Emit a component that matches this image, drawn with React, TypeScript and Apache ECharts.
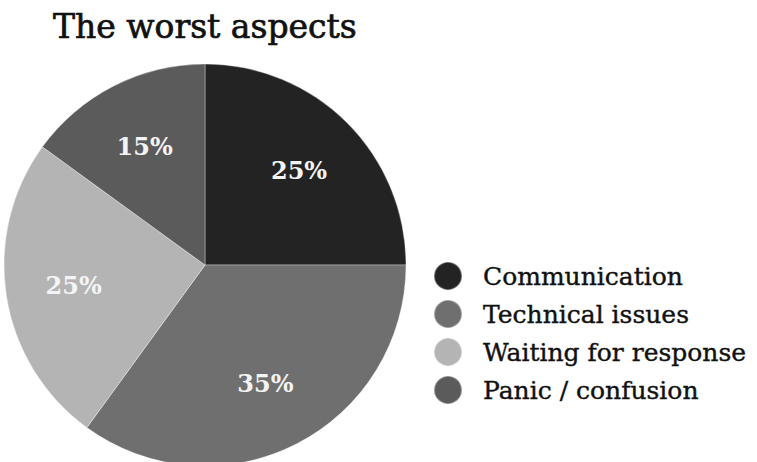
import React, { useEffect, useRef } from "react";
import * as echarts from "echarts";

const categories = ["Communication", "Technical issues", "Waiting for response", "Panic / confusion"];
const values = [25, 35, 25, 15];
const colors = ["#232323", "#6f6f6f", "#b4b4b4", "#5b5b5b"];

export default function App() {
  const ref = useRef<HTMLDivElement>(null);
  useEffect(() => {
    if (!ref.current) return;
    const chart = echarts.init(ref.current, null, { renderer: "svg" });
    const font = "DejaVu Serif";
    const data = categories.map((name, i) => ({ name, value: values[i], itemStyle: { color: colors[i] } }));
    chart.setOption({
      animation: false,
      backgroundColor: "#ffffff",
      title: {
        text: "The worst aspects",
        left: 48,
        top: 5,
        textStyle: {
          fontFamily: font,
          fontSize: 33,
          fontWeight: "normal",
          color: "#111",
          textBorderColor: "#111",
          textBorderWidth: 0.7,
        },
      },
      legend: {
        orient: "vertical",
        left: 428,
        top: 254,
        icon: "circle",
        itemWidth: 28,
        itemHeight: 28,
        itemGap: 4,
        data: categories,
        textStyle: {
          fontFamily: font,
          fontSize: 25,
          color: "#111",
          padding: [0, 0, 0, 16],
          lineHeight: 34,
          textBorderColor: "#111",
          textBorderWidth: 0.4,
        },
      },
      series: [
        {
          type: "pie",
          center: [205, 265],
          radius: [0, 201],
          startAngle: 90,
          clockwise: true,
          label: { show: false },
          labelLine: { show: false },
          itemStyle: { borderColor: "rgba(255,255,255,0.35)", borderWidth: 1 },
          emphasis: { disabled: true },
          data,
        },
        {
          type: "pie",
          center: [205, 265],
          radius: [60, 200],
          startAngle: 90,
          clockwise: true,
          silent: true,
          legendHoverLink: false,
          itemStyle: { color: "rgba(0,0,0,0)" },
          label: {
            show: true,
            position: "inside",
            formatter: "{c}%",
            fontFamily: font,
            fontSize: 24,
            fontWeight: "bold",
            color: "#f4f4f4",
          },
          labelLine: { show: false },
          emphasis: { disabled: true },
          data: categories.map((name, i) => ({ name: name + " ", value: values[i] })),
        },
      ],
    });
    return () => chart.dispose();
  }, []);
  return <div ref={ref} style={{ position: "absolute", left: 0, top: 0, width: 757, height: 462 }} />;
}
